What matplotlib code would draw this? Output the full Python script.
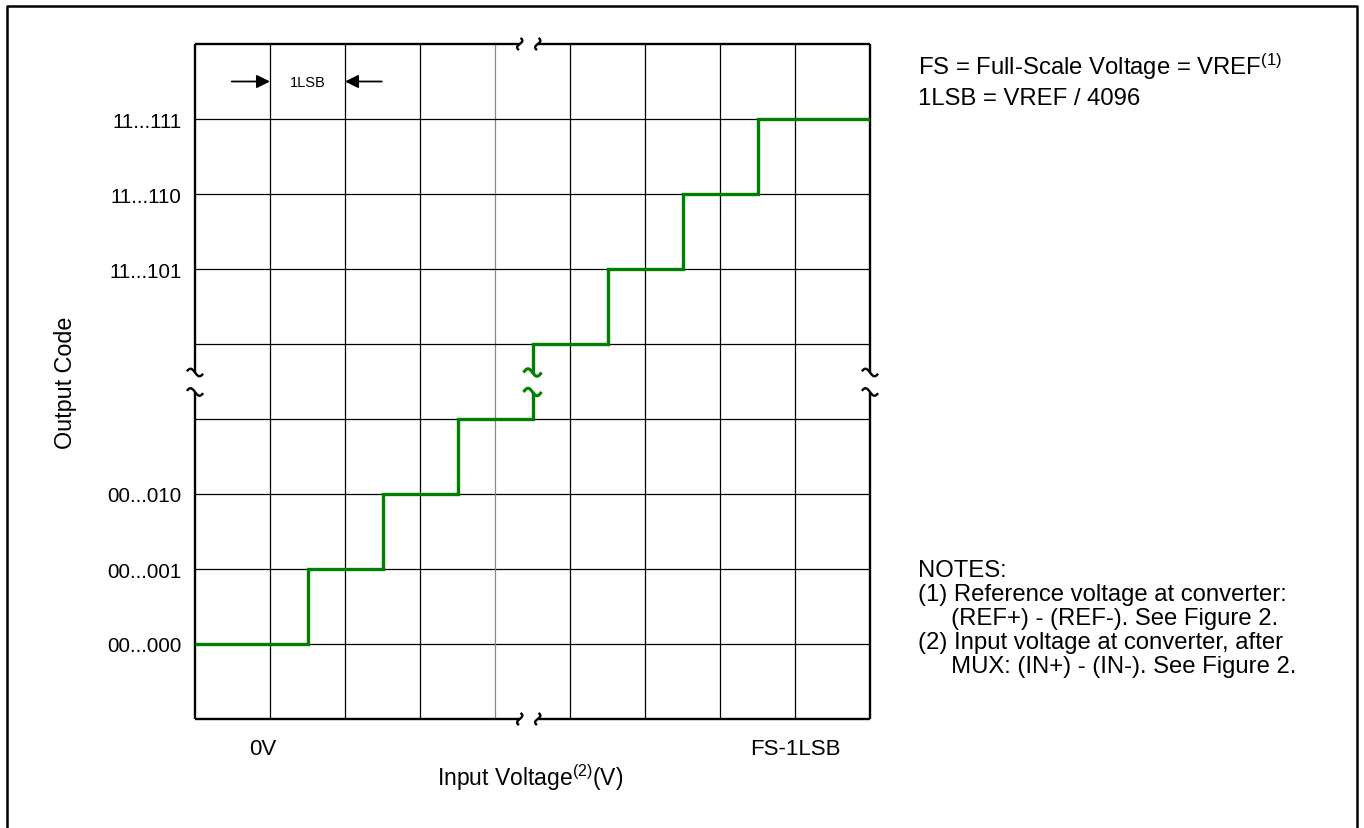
import numpy as np
import matplotlib
matplotlib.use("Agg")
import matplotlib.pyplot as plt
from matplotlib.patches import FancyArrowPatch

plt.rcParams['font.family'] = ['Liberation Sans', 'DejaVu Sans']
plt.rcParams['mathtext.default'] = 'regular'

# transfer function: step edges (in LSB columns) and output code levels
step_x = [0, 1.5, 2.5, 3.5, 4.5, 5.5, 6.5, 7.5, 9]
step_y = [1, 2, 3, 4, 5, 6, 7, 8]
ytick_pos = [1, 2, 3, 6, 7, 8]
ytick_labels = ['00...000', '00...001', '00...010', '11...101', '11...110', '11...111']
xtick_pos = [0.9, 8]
xtick_labels = ['0V', 'FS-1LSB']

W, H = 1364, 829
fig = plt.figure(figsize=(W / 100, H / 100), dpi=100)
ax = fig.add_axes([195 / W, (H - 720) / H, 675 / W, 675 / H])
ax.set_xlim(0, 9)
ax.set_ylim(0, 9)
for s in ax.spines.values():
    s.set_visible(False)

# grid
for i in range(1, 9):
    ax.axvline(i, color='#888888' if i == 4 else 'black', lw=0.9, zorder=1)
    ax.axhline(i, color='black', lw=0.9, zorder=1)

# squiggle helpers (break marks)
t = np.linspace(-0.9, 0.9, 40)


def tilde(x0, y0, w=0.12, a=0.05, **kw):
    ax.plot(x0 + w * t, y0 - a * np.sin(np.pi * t), clip_on=False, **kw)


def vtilde(x0, y0, h=0.09, a=0.035, **kw):
    ax.plot(x0 + a * np.sin(np.pi * t), y0 + h * t, clip_on=False, **kw)


frame = dict(color='black', lw=1.7, solid_capstyle='butt')
ylo, yhi = 4.36, 4.62
xlo, xhi = 4.33, 4.57
for xx in (0, 9):
    ax.plot([xx, xx], [0, ylo], clip_on=False, **frame)
    ax.plot([xx, xx], [yhi, 9], clip_on=False, **frame)
    tilde(xx, ylo, **frame)
    tilde(xx, yhi, **frame)
for yy in (0, 9):
    ax.plot([0, xlo], [yy, yy], clip_on=False, **frame)
    ax.plot([xhi, 9], [yy, yy], clip_on=False, **frame)
    vtilde(xlo, yy, **frame)
    vtilde(xhi, yy, **frame)

# step transfer function, broken at the middle riser
green = dict(color='#008000', lw=2.4, solid_capstyle='butt', solid_joinstyle='miter')
brk = 4
xs1, ys1 = [step_x[0]], [step_y[0]]
for k in range(1, brk):
    xs1 += [step_x[k], step_x[k]]
    ys1 += [step_y[k - 1], step_y[k]]
xs1 += [step_x[brk], step_x[brk]]
ys1 += [step_y[brk - 1], ylo]
ax.plot(xs1, ys1, zorder=3, **green)
xs2 = [step_x[brk], step_x[brk]]
ys2 = [yhi, step_y[brk]]
for k in range(brk + 1, len(step_x) - 1):
    xs2 += [step_x[k], step_x[k]]
    ys2 += [step_y[k - 1], step_y[k]]
xs2.append(step_x[-1])
ys2.append(step_y[-1])
ax.plot(xs2, ys2, zorder=3, **green)
tilde(step_x[brk], ylo, color='#008000', lw=2.2)
tilde(step_x[brk], yhi, color='#008000', lw=2.2)

# ticks and axis labels
ax.set_xticks(xtick_pos, xtick_labels, fontsize=16)
ax.set_yticks(ytick_pos, ytick_labels, fontsize=14.8)
ax.tick_params(axis='y', length=0, pad=9.5)
ax.tick_params(axis='x', length=0, pad=14)
ax.set_xlabel('Input Voltage$^{(2)}$(V)', fontsize=16.5, va='center')
ax.xaxis.set_label_coords(0.497, -0.085)
ax.set_ylabel('Output Code', fontsize=16.8, va='center')
ax.yaxis.set_label_coords(-0.192, 0.5)

# 1LSB marker
ax.add_patch(FancyArrowPatch((0.49, 8.5), (1.0, 8.5), arrowstyle='-|>', mutation_scale=20,
                             color='black', lw=1.3, shrinkA=0, shrinkB=0))
ax.add_patch(FancyArrowPatch((2.49, 8.5), (2.0, 8.5), arrowstyle='-|>', mutation_scale=20,
                             color='black', lw=1.3, shrinkA=0, shrinkB=0))
ax.text(1.5, 8.5, '1LSB', fontsize=10.5, ha='center', va='center')

# side notes
fig.text(918 / W, 1 - 67 / H, 'FS = Full-Scale Voltage = VREF$^{(1)}$', fontsize=17.2, va='center')
fig.text(918 / W, 1 - 99 / H, '1LSB = VREF / 4096', fontsize=17.2, va='center')
notes = ['NOTES:', '(1) Reference voltage at converter:', '     (REF+) - (REF-). See Figure 2.',
         '(2) Input voltage at converter, after', '     MUX: (IN+) - (IN-). See Figure 2.']
for i, line in enumerate(notes):
    fig.text(918 / W, 1 - (571 + 24 * i) / H, line, fontsize=17.2, va='center')

# outer frame
fig.add_artist(plt.Line2D([7 / W, 7 / W, 1357 / W, 1357 / W], [0, 1 - 7 / H, 1 - 7 / H, 0],
                          color='black', lw=1.8, transform=fig.transFigure))

fig.savefig('out.png', dpi=100)
